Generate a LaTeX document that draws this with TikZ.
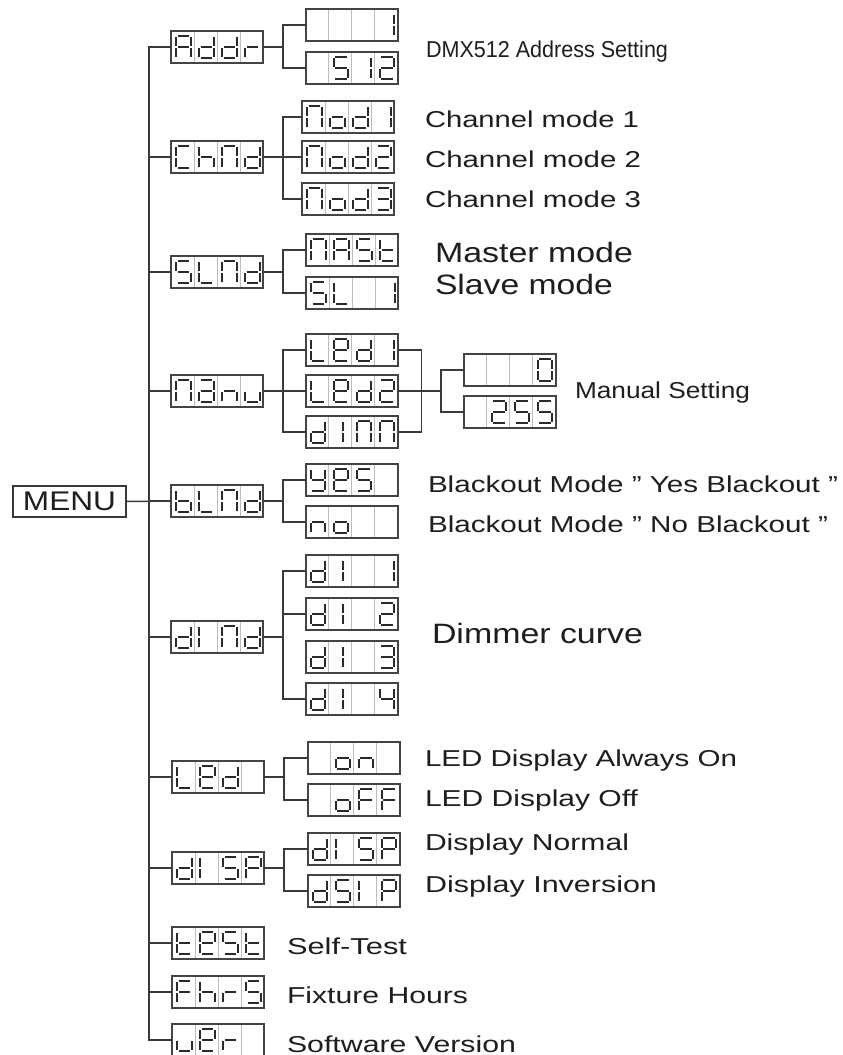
\documentclass[tikz,border=0pt]{standalone}
\usepackage{graphicx}
\usepackage{fontspec}
\setmainfont{Liberation Sans}
\usetikzlibrary{calc}
\definecolor{ln}{HTML}{3A3A3A}
\definecolor{bx}{HTML}{444444}
\definecolor{dv}{HTML}{BDBDBD}
\definecolor{sgc}{HTML}{2A2A2A}
\definecolor{tx}{HTML}{1E1E1E}

\newcommand\lbl[3]{\resizebox{#2pt}{\height}{\fontsize{#1}{#1}\selectfont #3}}

% seven segment pieces in cell coordinates (cell 23 x 32, y downwards)
\def\msga{\draw[segline] (6.6,5)--(18.2,5);}
\def\msgb{\draw[segline] (19.6,6.4)--(19.6,14.6);}
\def\msgc{\draw[segline] (19.6,17.4)--(19.6,25.6);}
\def\msgd{\draw[segline] (6.6,27)--(18.2,27);}
\def\msge{\draw[segline] (5.2,17.4)--(5.2,25.6);}
\def\msgf{\draw[segline] (5.2,6.4)--(5.2,14.6);}
\def\msgg{\draw[segline] (6.6,16)--(18.2,16);}
\def\msgp{\draw[segline] (14.5,6.4)--(14.5,14.6);}
\def\msgq{\draw[segline] (14.5,17.4)--(14.5,25.6);}
% characters
\def\sdA{a,b,c,e,f,g}
\def\sda{a,b,c,d,e,g}
\def\sdb{c,d,e,f,g}
\def\sdC{a,d,e,f}
\def\sdd{b,c,d,e,g}
\def\sdE{a,b,d,e,f,g}
\def\sdF{a,e,f,g}
\def\sdh{c,e,f,g}
\def\sdL{d,e,f}
\def\sdN{a,b,c,e,f}
\def\sdn{c,e,g}
\def\sdo{c,d,e,g}
\def\sdP{a,b,e,f,g}
\def\sdr{e,g}
\def\sdS{a,c,d,f,g}
\def\sdt{d,e,f,g}
\def\sdu{c,d,e}
\def\sdY{b,c,d,f,g}
\def\sdzero{a,b,c,d,e,f}
\def\sdone{b,c}
\def\sdtwo{a,b,d,e,g}
\def\sdthree{a,b,c,d,g}
\def\sdfour{b,c,f,g}
\def\sdIl{e,f}
\def\sdIc{p,q}
\def\sdX{x}

\newcommand\cellchar[2]{\begin{scope}[xshift=#1pt]\foreach \sg in #2 {\csname msg\sg\endcsname}\end{scope}}
\newcommand\disp[6]{%
 \node[dispbox] (#1) at (#2) {};
 \begin{scope}[shift={(#1.north west)}]
  \draw[divline] (23,1.2)--(23,30.8) (46,1.2)--(46,30.8) (69,1.2)--(69,30.8);
  \cellchar{0}{#3}\cellchar{23}{#4}\cellchar{46}{#5}\cellchar{69}{#6}
 \end{scope}}

\tikzset{
 conn/.style={draw=ln, line width=1.5pt},
 dispbox/.style={draw=bx, line width=2pt, minimum width=92pt, minimum height=32pt, inner sep=0pt, outer sep=0pt},
 divline/.style={draw=dv, line width=0.9pt},
 segline/.style={draw=sgc, line width=2.2pt},
 lab/.style={anchor=base west, inner sep=0pt, outer sep=0pt, text=tx},
}

\begin{document}
\begin{tikzpicture}[x=1pt,y=-1pt]
\fill[white] (0,0) rectangle (843,1055);
\useasboundingbox (0,0) rectangle (843,1055);

% MENU
\node[draw=ln, line width=1.5pt, minimum width=113pt, minimum height=31pt, inner sep=0pt, outer sep=0pt, text=tx] (menu) at (69.5,501.5) {\lbl{27}{93}{MENU}};

% level 1
\disp{addr}{217,47}{\sdA}{\sdd}{\sdd}{\sdr}
\disp{chnd}{217,157}{\sdC}{\sdh}{\sdN}{\sdd}
\disp{slnd}{217,272}{\sdS}{\sdL}{\sdN}{\sdd}
\disp{manu}{217,391}{\sdN}{\sda}{\sdn}{\sdu}
\disp{blnd}{217,501}{\sdb}{\sdL}{\sdN}{\sdd}
\disp{dind}{217,637}{\sdd}{\sdIl}{\sdN}{\sdd}
\disp{led}{218,777}{\sdL}{\sdE}{\sdd}{\sdX}
\disp{disp}{218,868}{\sdd}{\sdIl}{\sdS}{\sdP}
\disp{test}{218,943}{\sdt}{\sdE}{\sdS}{\sdt}
\disp{fhrs}{218,992}{\sdF}{\sdh}{\sdr}{\sdS}
\disp{ver}{218,1040}{\sdu}{\sdE}{\sdr}{\sdX}

% level 2
\disp{a1}{351.5,25}{\sdX}{\sdX}{\sdX}{\sdone}
\disp{a2}{351.5,68}{\sdX}{\sdS}{\sdone}{\sdtwo}
\disp{c1}{348,117}{\sdN}{\sdo}{\sdd}{\sdone}
\disp{c2}{348,157}{\sdN}{\sdo}{\sdd}{\sdtwo}
\disp{c3}{348,199}{\sdN}{\sdo}{\sdd}{\sdthree}
\disp{s1}{352,250}{\sdN}{\sdA}{\sdS}{\sdt}
\disp{s2}{352,293}{\sdS}{\sdL}{\sdX}{\sdone}
\disp{m1}{351.5,350}{\sdL}{\sdE}{\sdd}{\sdone}
\disp{m2}{351.5,391}{\sdL}{\sdE}{\sdd}{\sdtwo}
\disp{m3}{351.5,432}{\sdd}{\sdIc}{\sdN}{\sdN}
\disp{m4}{509.5,370}{\sdX}{\sdX}{\sdX}{\sdzero}
\disp{m5}{509.5,412}{\sdX}{\sdtwo}{\sdS}{\sdS}
\disp{b1}{351.5,480}{\sdY}{\sdE}{\sdS}{\sdX}
\disp{b2}{351.5,522}{\sdn}{\sdo}{\sdX}{\sdX}
\disp{d1}{351.5,571}{\sdd}{\sdIc}{\sdX}{\sdone}
\disp{d2}{351.5,614}{\sdd}{\sdIc}{\sdX}{\sdtwo}
\disp{d3}{351.5,657}{\sdd}{\sdIc}{\sdX}{\sdthree}
\disp{d4}{351.5,699}{\sdd}{\sdIc}{\sdX}{\sdfour}
\disp{l1}{353.5,758}{\sdX}{\sdo}{\sdn}{\sdX}
\disp{l2}{353.5,800}{\sdX}{\sdo}{\sdF}{\sdF}
\disp{p1}{353.5,849}{\sdd}{\sdIl}{\sdS}{\sdP}
\disp{p2}{353.5,891}{\sdd}{\sdS}{\sdIl}{\sdP}

% trunk
\coordinate (tr) at (149,47);
\draw[conn] (addr.west) -- (tr) |- (ver.west);
\foreach \n in {chnd,slnd,manu,blnd,dind,led,disp,test,fhrs}
  \draw[conn] (\n.west) -- (\n.west -| tr);
\draw[conn] (menu.east) -- (blnd.west);

% level 1 -> level 2
\draw[conn] (addr.east) -- ++(20,0) coordinate (ja);
\draw[conn] (a1.west) -| (ja) |- (a2.west);
\draw[conn] (chnd.east) -- ++(20,0) coordinate (jc) -- (c2.west);
\draw[conn] (c1.west) -| (jc) |- (c3.west);
\draw[conn] (slnd.east) -- ++(20,0) coordinate (js);
\draw[conn] (s1.west) -| (js) |- (s2.west);
\draw[conn] (manu.east) -- ++(20,0) coordinate (jm) -- (m2.west);
\draw[conn] (m1.west) -| (jm) |- (m3.west);
\draw[conn] (m1.east) -- ++(24,0) |- (m3.east);
\draw[conn] (m2.east) -- ++(43.5,0) coordinate (jn);
\draw[conn] (m4.west) -| (jn) |- (m5.west);
\draw[conn] (blnd.east) -- ++(20,0) coordinate (jb);
\draw[conn] (b1.west) -| (jb) |- (b2.west);
\draw[conn] (dind.east) -- ++(20,0) coordinate (jd);
\draw[conn] (d1.west) -| (jd) |- (d4.west);
\draw[conn] (d2.west) -- (d2.west -| jd);
\draw[conn] (led.east) -- ++(20,0) coordinate (jl);
\draw[conn] (l1.west) -| (jl) |- (l2.west);
\draw[conn] (disp.east) -- ++(20,0) coordinate (jp);
\draw[conn] (p1.west) -| (jp) |- (p2.west);

% labels
\node[lab] (t1) at (426,57) {\lbl{23}{242}{DMX512 Address Setting}};
\node[lab] (t2) at (425,127) {\lbl{23}{214}{Channel mode 1}};
\node[lab] (t3) at (425,167) {\lbl{23}{216}{Channel mode 2}};
\node[lab] (t4) at (425,207) {\lbl{23}{216}{Channel mode 3}};
\node[lab] (t5) at (435,262) {\lbl{28}{198}{Master mode}};
\node[lab] (t6) at (435,294) {\lbl{28}{178}{Slave mode}};
\node[lab] (t7) at (575,398) {\lbl{23}{175}{Manual Setting}};
\node[lab] (t8) at (428,492) {\lbl{23}{410}{Blackout Mode " Yes Blackout "}};
\node[lab] (t9) at (428,532) {\lbl{23}{400}{Blackout Mode " No Blackout "}};
\node[lab] (t10) at (432,643) {\lbl{28}{211}{Dimmer curve}};
\node[lab] (t11) at (425,766) {\lbl{23}{312}{LED Display Always On}};
\node[lab] (t12) at (425,806) {\lbl{23}{213}{LED Display Off}};
\node[lab] (t13) at (425,850) {\lbl{23}{204}{Display Normal}};
\node[lab] (t14) at (425,892) {\lbl{23}{232}{Display Inversion}};
\node[lab] (t15) at (287,954) {\lbl{23}{120}{Self-Test}};
\node[lab] (t16) at (287,1003) {\lbl{23}{181}{Fixture Hours}};
\node[lab] (t17) at (287,1052) {\lbl{23}{229}{Software Version}};
\end{tikzpicture}
\end{document}
